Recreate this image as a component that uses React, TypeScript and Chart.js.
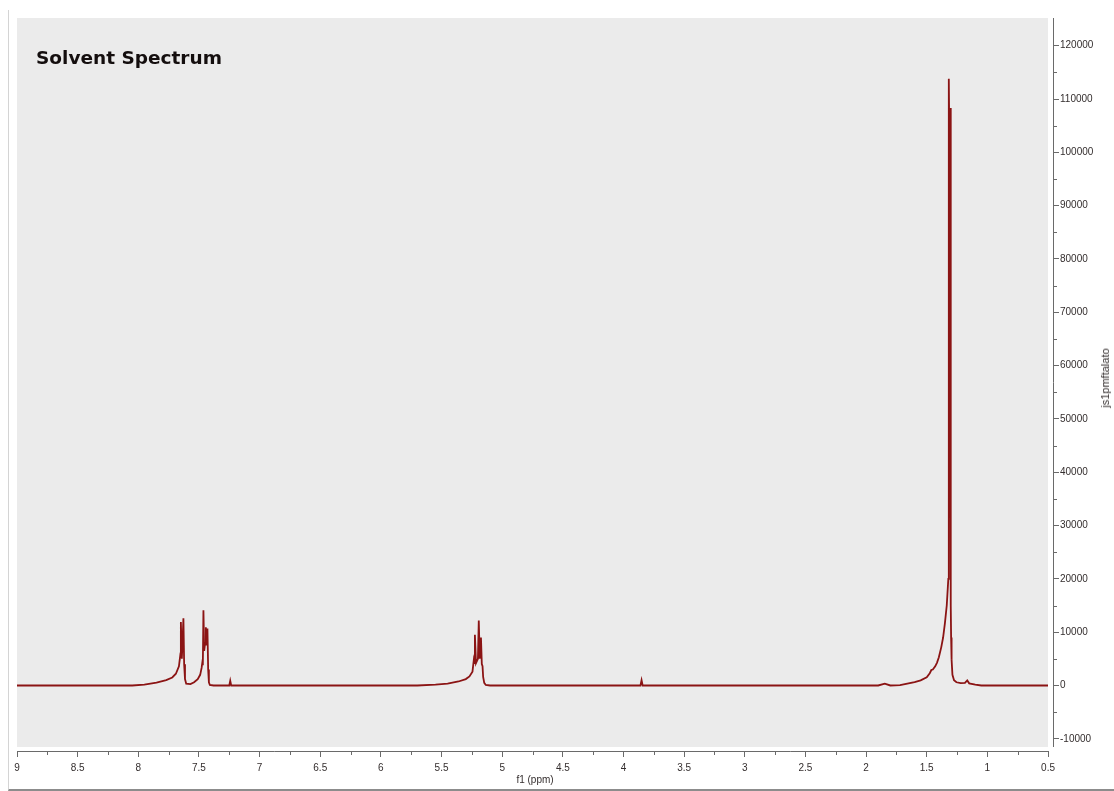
import React, { useEffect, useRef } from 'react'
import { Chart, registerables } from 'chart.js'

Chart.register(...registerables)

// 1H spectrum (ppm / intensity)
const ppm = [
  9.0, 8.5, 8.05, 7.95, 7.85, 7.77, 7.72, 7.69, 7.665, 7.652, 7.649, 7.641, 7.628, 7.622, 7.615, 7.605,
  7.57, 7.54, 7.51, 7.49, 7.478, 7.472, 7.468, 7.463, 7.457, 7.449, 7.443, 7.437, 7.43, 7.424, 7.418, 7.41,
  7.38, 7.25, 7.242, 7.234, 6.0, 5.7, 5.55, 5.45, 5.36, 5.3, 5.27, 5.245, 5.234, 5.229, 5.225, 5.216,
  5.2, 5.193, 5.185, 5.175, 5.168, 5.162, 5.157, 5.148, 5.135, 5.1, 3.86, 3.851, 3.842, 1.9, 1.846, 1.8,
  1.72, 1.66, 1.6, 1.55, 1.5, 1.475, 1.462, 1.45, 1.43, 1.415, 1.4, 1.38, 1.365, 1.35, 1.335, 1.322,
  1.318, 1.3125, 1.307, 1.302, 1.299, 1.295, 1.288, 1.275, 1.255, 1.22, 1.185, 1.166, 1.15, 1.1, 1.05, 0.5,
]
const intensity = [
  0, 0, 0, 150, 550, 1000, 1500, 2200, 3600, 6000, 11900, 5000, 12600, 4000, 1200, 350,
  250, 600, 1200, 2000, 3300, 4300, 3800, 14100, 6500, 8000, 10900, 7500, 10700, 3000, 600, 100,
  0, 0, 900, 0, 0, 0, 150, 350, 750, 1200, 1700, 2600, 4800, 4200, 9500, 4200,
  5000, 12200, 5000, 9000, 4000, 3600, 1600, 500, 100, 0, 0, 1000, 0, 0, 350, 0,
  50, 350, 650, 950, 1550, 2300, 2900, 3000, 3600, 4300, 5300, 7200, 9000, 11700, 15000, 20000,
  113800, 100000, 108300, 15000, 9000, 4800, 2000, 1000, 600, 450, 500, 950, 400, 150, 0, 0,
]

const xMajorTicks = [9, 8.5, 8, 7.5, 7, 6.5, 6, 5.5, 5, 4.5, 4, 3.5, 3, 2.5, 2, 1.5, 1, 0.5]
const xMinorTicks = [8.75, 8.25, 7.75, 7.25, 6.75, 6.25, 5.75, 5.25, 4.75, 4.25, 3.75, 3.25, 2.75, 2.25, 1.75, 1.25, 0.75]
const yMajorTicks = [-10000, 0, 10000, 20000, 30000, 40000, 50000, 60000, 70000, 80000, 90000, 100000, 110000, 120000]
const yMinorTicks = [-5000, 5000, 15000, 25000, 35000, 45000, 55000, 65000, 75000, 85000, 95000, 105000, 115000]

const AXIS = '#6a6a6a'
const TEXT = '#342e2e'
const FONT = "'Liberation Sans', Arial, sans-serif"

const frameAxes = {
  id: 'frameAxes',
  beforeDraw(chart: any) {
    const { ctx, chartArea, scales } = chart
    const right = scales.x.getPixelForValue(0.5)
    const bottom = chartArea.bottom - 4
    ctx.save()
    ctx.fillStyle = '#ebebeb'
    ctx.fillRect(chartArea.left, chartArea.top, right - chartArea.left, bottom - chartArea.top)
    ctx.restore()
  },
  afterDraw(chart: any) {
    const { ctx, chartArea, scales } = chart
    const x = scales.x
    const y = scales.y
    const xEnd = x.getPixelForValue(0.5)
    ctx.save()
    ctx.strokeStyle = AXIS
    ctx.lineWidth = 1
    ctx.beginPath()
    // x axis line
    ctx.moveTo(chartArea.left, chartArea.bottom + 0.5)
    ctx.lineTo(xEnd, chartArea.bottom + 0.5)
    // y axis line
    ctx.moveTo(chartArea.right + 0.5, chartArea.top)
    ctx.lineTo(chartArea.right + 0.5, chartArea.bottom - 4)
    for (const v of xMinorTicks) {
      const px = Math.round(x.getPixelForValue(v)) + 0.5
      ctx.moveTo(px, chartArea.bottom)
      ctx.lineTo(px, chartArea.bottom + 4)
    }
    for (const v of yMinorTicks) {
      const py = Math.round(y.getPixelForValue(v)) + 0.5
      ctx.moveTo(chartArea.right, py)
      ctx.lineTo(chartArea.right + 4, py)
    }
    ctx.stroke()
    ctx.restore()
  },
}

export default function App() {
  const canvasRef = useRef<HTMLCanvasElement>(null)
  const chartRef = useRef<Chart | null>(null)

  useEffect(() => {
    document.body.style.margin = '0'
    document.body.style.background = '#ffffff'
    if (!canvasRef.current) return
    const ctx = canvasRef.current.getContext('2d')
    if (!ctx) return

    chartRef.current = new Chart(ctx, {
      type: 'line',
      data: {
        datasets: [
          {
            label: 'js1pmftalato',
            data: ppm.map((p, i) => ({ x: p, y: intensity[i] })),
            borderColor: '#8b1414',
            borderWidth: 1.8,
            pointRadius: 0,
            tension: 0,
            fill: false,
          },
        ],
      },
      options: {
        animation: false,
        responsive: true,
        maintainAspectRatio: false,
        layout: { padding: { left: 17, top: 18, right: 0, bottom: 0 } },
        plugins: {
          legend: { display: false },
          tooltip: { enabled: false },
        },
        scales: {
          x: {
            type: 'linear',
            reverse: true,
            min: 0.459,
            max: 9,
            afterBuildTicks: (scale: any) => {
              scale.ticks = xMajorTicks.map(v => ({ value: v }))
            },
            afterFit: (scale: any) => {
              scale.height = 40
            },
            border: { display: false },
            grid: { drawOnChartArea: false, drawTicks: true, tickLength: 6, color: AXIS },
            ticks: {
              color: TEXT,
              font: { family: FONT, size: 10 },
              padding: 5,
              maxRotation: 0,
              autoSkip: false,
              callback: (v: any) => String(v),
            },
            title: {
              display: true,
              text: 'f1 (ppm)',
              color: TEXT,
              font: { family: FONT, size: 10 },
              padding: { top: 0, bottom: 5 },
            },
          },
          y: {
            type: 'linear',
            position: 'right',
            min: -12290,
            max: 125200,
            afterBuildTicks: (scale: any) => {
              scale.ticks = yMajorTicks.map(v => ({ value: v }))
            },
            afterFit: (scale: any) => {
              scale.width = 61
            },
            border: { display: false },
            grid: { drawOnChartArea: false, drawTicks: true, tickLength: 6, color: AXIS },
            ticks: {
              color: TEXT,
              font: { family: FONT, size: 10 },
              padding: 1,
              autoSkip: false,
              callback: (v: any) => String(v),
            },
          },
        },
      },
      plugins: [frameAxes],
    })

    return () => {
      if (chartRef.current) {
        chartRef.current.destroy()
        chartRef.current = null
      }
    }
  }, [])

  return (
    <div style={{ position: 'relative', width: 1114, height: 791, background: '#fff' }}>
      <div
        style={{
          position: 'absolute',
          left: 8,
          top: 10,
          width: 1106,
          height: 781,
          boxSizing: 'border-box',
          borderLeft: '1px solid #d4d4d4',
          borderBottom: '2px solid #8c8c8c',
        }}
      />
      <div style={{ position: 'absolute', left: 0, top: 0, width: 1114, height: 791 }}>
        <canvas ref={canvasRef} />
      </div>
      <div
        style={{
          position: 'absolute',
          left: 36,
          top: 49,
          fontFamily: "'DejaVu Sans', sans-serif",
          fontWeight: 'bold',
          fontSize: 18.5,
          lineHeight: '18.5px',
          color: '#140e0e',
          whiteSpace: 'nowrap',
        }}
      >
        Solvent Spectrum
      </div>
      <div
        style={{
          position: 'absolute',
          left: 1105,
          top: 378,
          transform: 'translate(-50%, -50%) rotate(-90deg)',
          fontFamily: FONT,
          fontSize: 11,
          color: TEXT,
          whiteSpace: 'nowrap',
        }}
      >
        js1pmftalato
      </div>
    </div>
  )
}
